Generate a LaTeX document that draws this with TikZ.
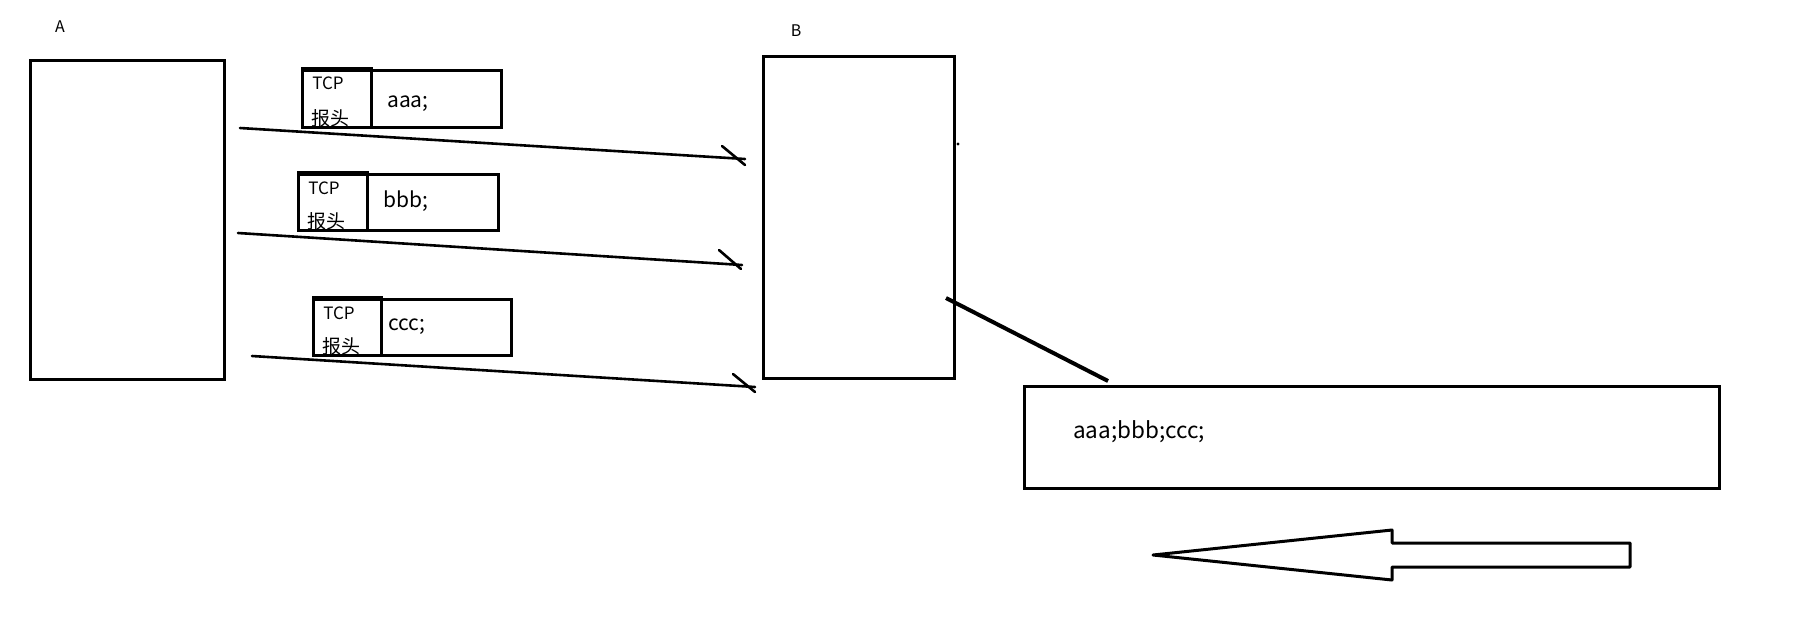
\documentclass[tikz,border=0pt]{standalone}
\usepackage{fontspec}
\setmainfont{Noto Sans CJK SC}
\begin{document}
\begin{tikzpicture}[x=1pt,y=-1pt,
  box/.style={draw, line width=3.2pt, inner sep=0pt, anchor=north west},
  hdr/.style={box},
  wire/.style={line width=2.6pt, line cap=round},
  tick/.style={line width=2.6pt, line cap=round},
  link/.style={line width=4pt},
  small/.style={font=\fontsize{16}{16}\selectfont, inner sep=0pt},
  hdrtxt/.style={font=\fontsize{17}{17}\selectfont, inner sep=0pt},
  cjktxt/.style={font=\fontsize{19}{19}\selectfont, inner sep=0pt},
  paytxt/.style={font=\fontsize{21}{21}\selectfont, inner sep=0pt, anchor=west},
  restxt/.style={font=\fontsize{22.5}{22.5}\selectfont, inner sep=0pt, anchor=west}]
\useasboundingbox[fill=white] (0,0) rectangle (1806,641);

% labels
\node[small] (labA) at (60,27) {A};
\node[small] (labB) at (796,31) {B};

% hosts
\node[box, minimum width=194pt, minimum height=319pt] (A) at (29,59) {};
\node[box, minimum width=191pt, minimum height=322pt] (B) at (762,55) {};

% packet 1
\node[box, minimum width=130pt, minimum height=57pt] (p1) at (370,69) {};
\node[hdr, minimum width=69pt, minimum height=57pt] (h1) at (301,69) {};
\draw[line width=4.2pt] (h1.north west) -- (h1.north east);
\node[hdrtxt] (t1) at (328,83) {TCP};
\node[cjktxt] (c1) at (330,118) {报头};
\node[paytxt] (d1) at (387,104) {aaa;};

% packet 2
\node[box, minimum width=131pt, minimum height=56pt] (p2) at (366,173) {};
\node[hdr, minimum width=69pt, minimum height=56pt] (h2) at (297,173) {};
\draw[line width=4.2pt] (h2.north west) -- (h2.north east);
\node[hdrtxt] (t2) at (324,188) {TCP};
\node[cjktxt] (c2) at (326,221) {报头};
\node[paytxt] (d2) at (383,201) {bbb;};

% packet 3
\node[box, minimum width=130pt, minimum height=56pt] (p3) at (380,298) {};
\node[hdr, minimum width=68pt, minimum height=56pt] (h3) at (312,298) {};
\draw[line width=4.2pt] (h3.north west) -- (h3.north east);
\node[hdrtxt] (t3) at (339,313) {TCP};
\node[cjktxt] (c3) at (341,346) {报头};
\node[paytxt] (d3) at (388,327) {ccc;};

% transmission lines
\coordinate (s1) at (240,128);
\coordinate (e1) at (745,159);
\coordinate (s2) at (238,233);
\coordinate (e2) at (742,265);
\coordinate (s3) at (252,356);
\coordinate (e3) at (755,387);
\draw[wire] (s1) -- (e1);
\draw[wire] (s2) -- (e2);
\draw[wire] (s3) -- (e3);
\draw[tick] (722,146) -- (745,165);
\draw[tick] (719,250) -- (741,269);
\draw[tick] (733,374) -- (755,392);

% dot
\fill (958,144) circle (1.6);

% result buffer
\node[box, minimum width=695pt, minimum height=102pt] (R) at (1023,385) {};
\node[restxt] (rt) at (1073,432) {aaa;bbb;ccc;};
\coordinate (l1) at (946,298);
\coordinate (l2) at (1108,381);
\draw[link] (l1) -- (l2);

% big arrow
\draw[line width=3pt, line join=round] (1153,555) -- (1392,530) -- (1392,543) -- (1630,543) -- (1630,567) -- (1392,567) -- (1392,580) -- cycle;
\end{tikzpicture}
\end{document}
